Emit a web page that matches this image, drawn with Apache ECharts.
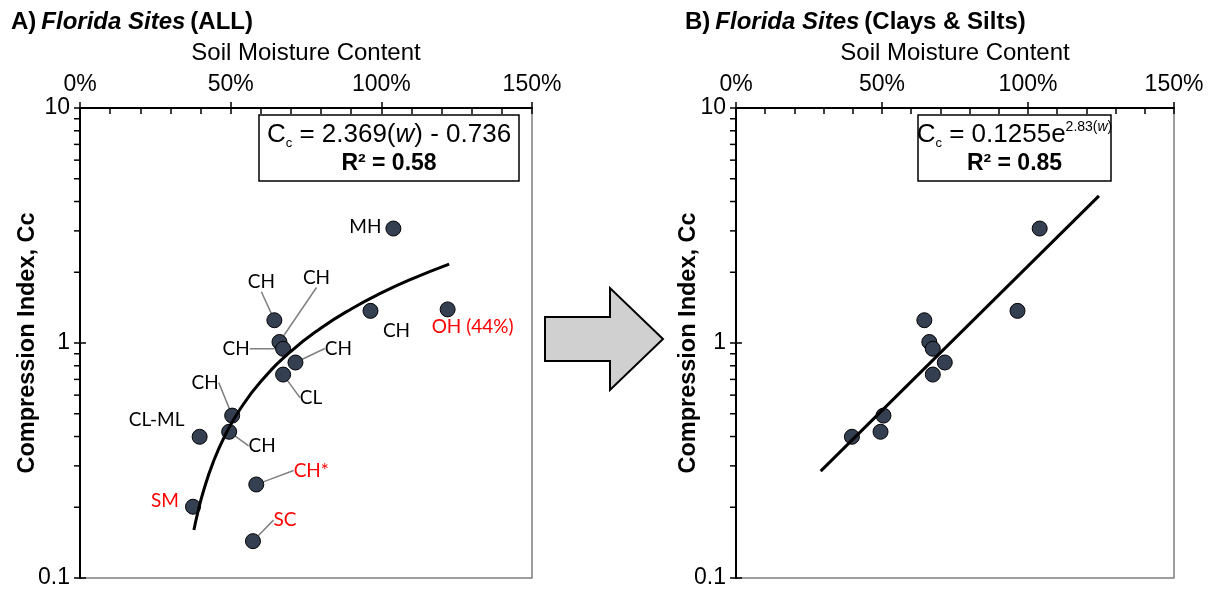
<!DOCTYPE html>
<html>
<head>
<meta charset="utf-8">
<title>Florida Sites - Compression Index</title>
<script src="https://cdn.jsdelivr.net/npm/echarts@6/dist/echarts.min.js"></script>
<style>
  html, body { margin: 0; padding: 0; background: #fff; }
  #main { width: 1211px; height: 590px; }
</style>
</head>
<body>
<div id="main"></div>
<script>
// soil moisture content (w, fraction) and compression index for each site
const moisture = [1.04, 1.22, 0.964, 0.645, 0.662, 0.674, 0.715, 0.674, 0.505, 0.495, 0.397, 0.585, 0.375, 0.574]
const compIndex = [3.07, 1.39, 1.37, 1.25, 1.01, 0.945, 0.826, 0.734, 0.491, 0.419, 0.399, 0.25, 0.201, 0.1435]
const soilType = ['MH', 'OH (44%)', 'CH', 'CH', 'CH', 'CH', 'CH', 'CL', 'CH', 'CH', 'CL-ML', 'CH*', 'SM', 'SC']
// true = clay or silt (kept in panel B)
const claySilt = [true, false, true, true, true, true, true, true, true, true, true, false, false, false]

// trend line A : Cc = 2.369(w) - 0.736
const trendAW = [0.378, 0.39, 0.41, 0.44, 0.48, 0.53, 0.6, 0.7, 0.8, 0.9, 1.0, 1.1, 1.225]
const trendACc = [0.16, 0.188, 0.235, 0.306, 0.401, 0.52, 0.685, 0.922, 1.159, 1.396, 1.633, 1.87, 2.166]
// trend line B : Cc = 0.1255e^2.83(w)
const trendBW = [0.29, 1.243]
const trendBCc = [0.285, 4.23]

const yMinorTicks = [0.2, 0.3, 0.4, 0.5, 0.6, 0.7, 0.8, 0.9, 2, 3, 4, 5, 6, 7, 8, 9]

// label placement (pixels from the point) and whether a leader line is drawn
const labelOffsets = [[-28, -2], [25, 17], [26, 20], [-13, -38], [37, -64], [-47, 0], [43, -14],
  [28, 23], [-27, -33], [33, 14], [-43, -17], [55, -14], [-28, -6], [32, -21]]
const leader = [false, false, false, true, true, true, true, true, true, true, false, true, false, true]

const ARIAL = 'Liberation Sans, Arial, sans-serif'
const RED = '#ff0000'
const DOT = '#353f52'

let myChart = echarts.init(document.getElementById('main'))

function mainX(grid, gap) {
  return {
    gridIndex: grid, type: 'value', position: 'top', min: 0, max: 1.5, interval: 0.5,
    name: 'Soil Moisture Content', nameLocation: 'middle', nameGap: gap, nameMoveOverlap: false,
    nameTextStyle: { fontFamily: ARIAL, fontSize: 24, color: '#000' },
    axisLine: { show: true, lineStyle: { color: '#000', width: 2 } },
    axisTick: { show: true, inside: true, length: 6, lineStyle: { color: '#000', width: 1.5 } },
    minorTick: { show: true, splitNumber: 5, length: 6, lineStyle: { color: '#000', width: 1.5 } },
    axisLabel: { fontFamily: ARIAL, fontSize: 23, color: '#000', margin: 12,
      formatter: v => Math.round(v * 100) + '%' },
    splitLine: { show: false }
  }
}
function mainY(grid, gap) {
  return {
    gridIndex: grid, type: 'log', logBase: 10, min: 0.1, max: 10,
    name: 'Compression Index, Cc', nameLocation: 'middle', nameGap: gap, nameMoveOverlap: false,
    nameTextStyle: { fontFamily: ARIAL, fontSize: 23.5, fontWeight: 'bold', color: '#000' },
    axisLine: { show: true, lineStyle: { color: '#000', width: 2 } },
    axisTick: { show: true, length: 6, lineStyle: { color: '#000', width: 1.5 } },
    axisLabel: { fontFamily: ARIAL, fontSize: 23, color: '#000', margin: 10,
      formatter: v => String(+Number(v).toPrecision(3)) },
    splitLine: { show: false }
  }
}
// overlay axes: other half of the major ticks
function tickX(grid) {
  return {
    gridIndex: grid, type: 'value', position: 'top', min: 0, max: 1.5, interval: 0.5,
    axisLine: { show: false }, axisLabel: { show: false }, splitLine: { show: false },
    axisTick: { show: true, length: 6, lineStyle: { color: '#000', width: 1.5 } }
  }
}
function tickY(grid) {
  return {
    gridIndex: grid, type: 'log', logBase: 10, min: 0.1, max: 10,
    axisLine: { show: false }, axisLabel: { show: false }, splitLine: { show: false },
    axisTick: { show: true, inside: true, length: 6, lineStyle: { color: '#000', width: 1.5 } }
  }
}
function minorY(axis) {
  return {
    type: 'custom', xAxisIndex: axis, yAxisIndex: axis, silent: true, clip: false,
    data: yMinorTicks.map(v => [0, v]),
    renderItem: function (params, api) {
      let p = api.coord([api.value(0), api.value(1)])
      return { type: 'line', shape: { x1: p[0] - 6, y1: p[1], x2: p[0], y2: p[1] },
        style: { stroke: '#000', lineWidth: 1.5 } }
    }
  }
}

let pointsA = moisture.map((w, i) => ({
  value: [w, compIndex[i]], name: soilType[i],
  label: { color: claySilt[i] ? '#000' : RED },
  labelLine: { show: leader[i] }
}))
let pointsB = moisture.map((w, i) => [w, compIndex[i]]).filter((d, i) => claySilt[i])

const titleRich = {
  b: { fontFamily: ARIAL, fontSize: 24, fontWeight: 'bold', color: '#000' },
  bi: { fontFamily: ARIAL, fontSize: 24, fontWeight: 'bold', fontStyle: 'italic', color: '#000' }
}
const eqRich = {
  n: { fontFamily: ARIAL, fontSize: 26, lineHeight: 29, color: '#000' },
  i: { fontFamily: ARIAL, fontSize: 26, lineHeight: 29, fontStyle: 'italic', color: '#000' },
  s: { fontFamily: ARIAL, fontSize: 13, lineHeight: 12, verticalAlign: 'bottom', color: '#000' },
  p: { fontFamily: ARIAL, fontSize: 14, lineHeight: 14, verticalAlign: 'top', color: '#000' },
  pi: { fontFamily: ARIAL, fontSize: 14, lineHeight: 14, verticalAlign: 'top', fontStyle: 'italic', color: '#000' },
  r: { fontFamily: ARIAL, fontSize: 23, lineHeight: 26, fontWeight: 'bold', color: '#000' }
}
function eqBox(x, y, w, h, line1, line2) {
  let cx = x + w / 2
  return {
    type: 'group', z: 50,
    children: [
      { type: 'rect', shape: { x: x, y: y, width: w, height: h },
        style: { fill: '#fff', stroke: '#000', lineWidth: 1.5 } },
      { type: 'text', style: { x: cx, y: y + 20, text: line1, rich: eqRich,
        align: 'center', verticalAlign: 'middle', textAlign: 'center', textVerticalAlign: 'middle' } },
      { type: 'text', style: { x: cx, y: y + 49, text: line2, rich: eqRich,
        align: 'center', verticalAlign: 'middle', textAlign: 'center', textVerticalAlign: 'middle' } }
    ]
  }
}

myChart.setOption({
  backgroundColor: '#fff',
  animation: false,
  title: [
    { left: 6, top: 5, text: '{b|A)} {bi|Florida Sites} {b|(ALL)}', textStyle: { rich: titleRich } },
    { left: 680, top: 5, text: '{b|B)} {bi|Florida Sites} {b|(Clays & Silts)}', textStyle: { rich: titleRich } }
  ],
  grid: [
    { left: 80, top: 108, width: 452, height: 470, show: true, borderColor: '#7f7f7f', borderWidth: 1.5 },
    { left: 736, top: 108, width: 438, height: 470, show: true, borderColor: '#7f7f7f', borderWidth: 1.5 },
    { left: 80, top: 108, width: 452, height: 470 },
    { left: 736, top: 108, width: 438, height: 470 }
  ],
  xAxis: [mainX(0, 43), mainX(1, 43), tickX(2), tickX(3)],
  yAxis: [mainY(0, 40), mainY(1, 35), tickY(2), tickY(3)],
  graphic: [
    {
      type: 'polygon', z: 50,
      shape: { points: [[545, 317], [610, 317], [610, 288], [663, 339], [610, 390], [610, 361], [545, 361]] },
      style: { fill: '#d0d0d0', stroke: '#000', lineWidth: 2 }
    },
    eqBox(259, 115, 260, 66,
      '{n|C}{s|c}{n| = 2.369(}{i|w}{n|) - 0.736}', '{r|R² = 0.58}'),
    eqBox(918, 115, 193, 66,
      '{n|C}{s|c}{n| = 0.1255e}{p|2.83(}{pi|w}{p|)}', '{r|R² = 0.85}')
  ],
  series: [
    {
      type: 'scatter', xAxisIndex: 0, yAxisIndex: 0, z: 3,
      symbol: 'circle', symbolSize: 15,
      itemStyle: { color: DOT, borderColor: '#000', borderWidth: 1, opacity: 1 },
      label: { show: true, position: 'inside', formatter: '{b}', fontFamily: 'Lato', fontSize: 19 },
      labelLine: { show: true, lineStyle: { color: '#808080', width: 1.5 } },
      labelLayout: function (params) {
        let o = labelOffsets[params.dataIndex]
        return { dx: o[0], dy: o[1] }
      },
      data: pointsA
    },
    {
      type: 'line', xAxisIndex: 0, yAxisIndex: 0, z: 4, showSymbol: false, smooth: true,
      lineStyle: { color: '#000', width: 3 },
      data: trendAW.map((w, i) => [w, trendACc[i]])
    },
    {
      type: 'scatter', xAxisIndex: 1, yAxisIndex: 1, z: 3,
      symbol: 'circle', symbolSize: 15,
      itemStyle: { color: DOT, borderColor: '#000', borderWidth: 1, opacity: 1 },
      data: pointsB
    },
    {
      type: 'line', xAxisIndex: 1, yAxisIndex: 1, z: 4, showSymbol: false,
      lineStyle: { color: '#000', width: 3 },
      data: trendBW.map((w, i) => [w, trendBCc[i]])
    },
    minorY(0),
    minorY(1)
  ]
})

let resizeTimer = null
window.addEventListener('resize', function () {
  if (resizeTimer) clearTimeout(resizeTimer)
  resizeTimer = setTimeout(function () {
    myChart.resize()
  }, 100)
})
</script>
</body>
</html>
